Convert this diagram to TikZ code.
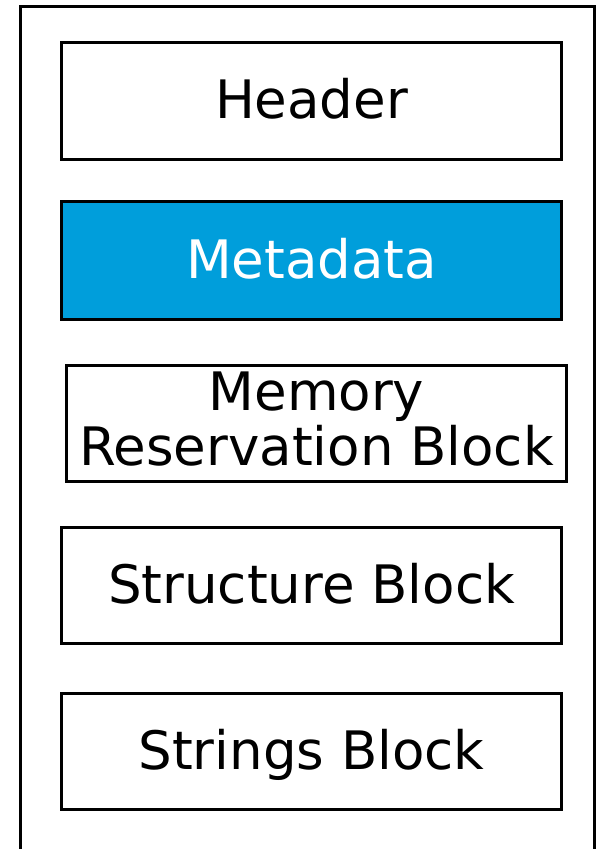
\documentclass[tikz,border=0pt]{standalone}
\usepackage{fontspec}
\setmainfont{DejaVu Sans}
\definecolor{metablue}{RGB}{0,158,219}
\tikzset{
  blk/.style={draw=black, line width=3pt, fill=white, rectangle, inner sep=0pt, outer sep=0pt,
    minimum width=500pt, minimum height=116.5pt, text height=36pt, text depth=0pt,
    font=\fontsize{53}{55}\selectfont, align=center},
  frame/.style={draw=black, line width=3pt}
}
\begin{document}
\begin{tikzpicture}[x=1pt,y=-1pt]
\useasboundingbox (0,0) rectangle (596,849);
\begin{scope}
\clip (0,0) rectangle (596,849);
\draw[frame] (20.5,6) rectangle (594.5,880);
\end{scope}
\node[blk] (header) at (311.5,100.75) {Header};
\node[blk, fill=metablue, text=white, minimum height=118pt] (meta) at (311.5,260) {Metadata};
\node[blk, minimum height=116pt, text height=84pt, text depth=0pt] (mem) at (316.5,423.5) {Memory\\Reservation Block};
\node[blk, minimum height=116pt] (struct) at (311.5,585) {Structure Block};
\node[blk] (strings) at (311.5,751.25) {Strings Block};
\end{tikzpicture}
\end{document}
